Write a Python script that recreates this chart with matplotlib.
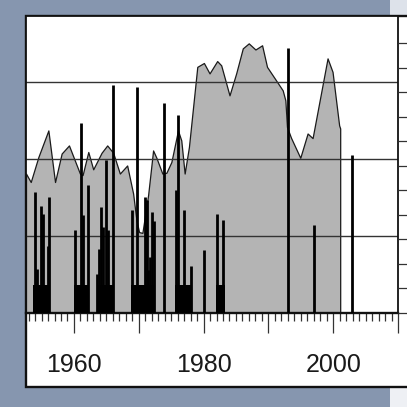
import matplotlib
matplotlib.use("Agg")
import matplotlib.pyplot as plt
from matplotlib.patches import Rectangle

plt.rcParams['font.family'] = ['Liberation Sans', 'DejaVu Sans']

# Shaded series (year, value)
area_years = [1952.6, 1953.33, 1954.51, 1956.05, 1957.08, 1958.10, 1959.23, 1960.92,
              1961.33, 1962.21, 1962.97, 1964.26, 1965.13, 1966.05, 1967.08, 1968.21,
              1969.13, 1969.64, 1970.05, 1970.56, 1971.44, 1972.21, 1972.72, 1973.64,
              1974.26, 1975.03, 1976.05, 1976.56, 1977.08, 1977.74, 1979.03, 1980.05,
              1980.92, 1982.10, 1982.72, 1984.00, 1985.03, 1986.05, 1986.97, 1988.00,
              1989.03, 1989.79, 1991.18, 1992.21, 1992.62, 1992.87, 1993.49, 1994.92,
              1996.05, 1996.82, 1999.13, 1999.90, 2000.92, 2001.08]
area_values = [36.2, 34.0, 40.5, 47.4, 34.0, 41.4, 43.5, 36.2,
               35.8, 41.8, 37.3, 41.6, 43.5, 41.6, 36.2, 38.3,
               31.0, 24.1, 21.0, 20.8, 30.6, 42.2, 40.3, 36.2,
               36.4, 39.2, 47.4, 44.8, 36.2, 43.1, 63.9, 64.9,
               62.2, 65.4, 64.3, 56.5, 62.2, 68.7, 70.0, 68.4,
               69.5, 63.9, 60.4, 57.8, 55.2, 48.3, 45.5, 40.3,
               46.6, 45.4, 66.1, 62.6, 48.7, 47.9]

# Individual events (year, value)
spike_years = [1953.95, 1954.26, 1954.92, 1955.18, 1955.95, 1956.21,
               1960.15, 1961.08, 1961.38, 1962.10,
               1963.59, 1963.85, 1964.15, 1964.46, 1964.92, 1965.18, 1965.95,
               1968.97, 1969.79, 1970.92, 1971.23, 1971.44, 1971.79, 1972.05, 1972.31,
               1973.85,
               1975.79, 1976.05, 1976.97, 1978.00,
               1980.05,
               1982.05, 1983.03,
               1993.08, 1996.97, 2002.97]
spike_values = [31.4, 11.5, 27.7, 25.8, 17.3, 30.0,
                21.5, 49.2, 25.5, 33.2,
                10.2, 16.7, 27.5, 22.3, 39.8, 21.5, 59.1,
                26.7, 58.7, 30.1, 29.3, 11.1, 14.5, 26.2, 23.9,
                54.4,
                31.9, 51.3, 26.8, 12.2,
                16.3,
                25.6, 24.2,
                68.7, 22.8, 41.0]

# Seasons with a steady low level (start, end, value)
season_start = [1953.74, 1960.00, 1963.49, 1968.77, 1975.59, 1981.95]
season_end = [1956.31, 1962.36, 1966.10, 1972.46, 1978.15, 1983.23]
season_value = [7.2, 7.2, 7.2, 7.2, 7.2, 7.2]

grid_levels = [20, 40, 60]
major_years = [1960, 1970, 1980, 1990, 2000, 2010]
major_labels = ['1960', '', '1980', '', '2000', '']

W = H = 407
fig = plt.figure(figsize=(W / 100, H / 100), dpi=100)
fig.patch.set_facecolor('#8696af')

# light window strips on the right
fig.patches.append(Rectangle((390 / W, 1 - 16 / H), 1, 16 / H, transform=fig.transFigure,
                             facecolor='#dde2ea', edgecolor='none', zorder=-3))
fig.patches.append(Rectangle((390 / W, 0), 1, 20 / H, transform=fig.transFigure,
                             facecolor='#eef0f4', edgecolor='none', zorder=-3))
# white panel with frame
fig.patches.append(Rectangle((26 / W, 1 - 387 / H), 1.0, (387 - 16) / H,
                             transform=fig.transFigure, facecolor='white',
                             edgecolor='#111111', linewidth=1.7, zorder=-2))

ax = fig.add_axes([26 / W, 1 - 313 / H, 372 / W, 297 / H])
ax.set_facecolor('white')
ax.set_xlim(1952.6, 2010)
ax.set_ylim(0, 77.1)

ax.fill_between(area_years, area_values, 0, facecolor='#b4b4b4',
                edgecolor='#1a1a1a', linewidth=0.9, zorder=2)

for lv in grid_levels:
    ax.axhline(lv, color='#333333', linewidth=1.0, zorder=2.5)

widths = [e - s for s, e in zip(season_start, season_end)]
ax.bar(season_start, season_value, width=widths, align='edge', color='black',
       linewidth=0, zorder=3)
ax.vlines(spike_years, 0, spike_values, colors='black', linewidth=2.0, zorder=3)

ax.set_yticks([])
ax.set_xticks(major_years)
ax.set_xticklabels(major_labels)
ax.set_xticks(range(1953, 2011), minor=True)
ax.tick_params(axis='x', which='major', direction='out', length=14.5, width=0.9,
               color='#333333', labelsize=18, pad=14, labelcolor='#1a1a1a')
ax.tick_params(axis='x', which='minor', direction='out', length=5.8, width=0.9,
               color='#333333')
for side in ['left', 'top', 'right', 'bottom']:
    ax.spines[side].set_color('#111111')
    ax.spines[side].set_linewidth(1.3)
ax.spines['bottom'].set_linewidth(1.7)

ax2 = ax.twinx()
ax2.set_ylim(0, 12.12)
ax2.set_yticks(range(12))
ax2.tick_params(axis='y', direction='out', length=9, width=0.9, color='#333333',
                labelright=False)
for side in ['left', 'top', 'right', 'bottom']:
    ax2.spines[side].set_visible(False)

fig.savefig('out.png', dpi=100, facecolor=fig.get_facecolor())
